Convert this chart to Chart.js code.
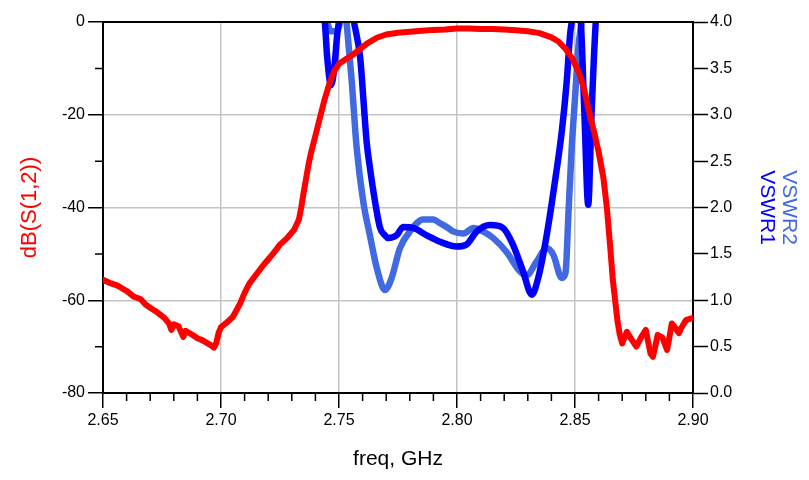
<!DOCTYPE html>
<html>
<head>
<meta charset="utf-8">
<script src="https://cdn.jsdelivr.net/npm/chart.js@4.4.1/dist/chart.umd.min.js"></script>
<style>
  html, body { margin: 0; padding: 0; background: #ffffff; }
  #wrap { width: 809px; height: 480px; }
</style>
</head>
<body>
<div id="wrap"><canvas id="c" width="809" height="480"></canvas></div>
<script>
// ---- data ----
const freqS12 = [2.650,2.653,2.656,2.660,2.663,2.666,2.668,2.670,2.673,2.676,2.678,2.679,2.680,2.682,2.684,2.685,2.688,2.690,2.692,2.694,2.696,2.697,2.698,2.699,2.700,2.702,2.705,2.708,2.710,2.712,2.715,2.718,2.720,2.722,2.725,2.728,2.731,2.733,2.734,2.735,2.737,2.738,2.740,2.742,2.744,2.746,2.748,2.750,2.753,2.756,2.759,2.762,2.766,2.770,2.775,2.780,2.785,2.790,2.795,2.800,2.805,2.810,2.815,2.820,2.825,2.830,2.835,2.840,2.843,2.846,2.849,2.852,2.854,2.856,2.858,2.860,2.862,2.8635,2.865,2.866,2.867,2.868,2.869,2.870,2.871,2.872,2.874,2.876,2.878,2.880,2.881,2.882,2.883,2.884,2.885,2.887,2.889,2.890,2.891,2.892,2.894,2.895,2.897,2.900];
const s12dB   = [-55.6,-56.3,-56.8,-58.0,-59.2,-59.8,-60.9,-61.6,-62.6,-63.8,-65.0,-66.4,-65.2,-65.6,-67.9,-66.6,-67.5,-68.2,-68.6,-69.2,-69.8,-70.2,-69.2,-67.0,-65.8,-65.0,-63.6,-60.8,-58.4,-56.4,-54.4,-52.4,-51.2,-50.0,-48.0,-46.6,-44.8,-42.6,-40.0,-36.8,-31.0,-28.5,-24.5,-20.5,-16.5,-13.2,-10.6,-9.0,-8.0,-7.0,-5.8,-4.6,-3.4,-2.7,-2.3,-2.1,-1.9,-1.7,-1.6,-1.4,-1.4,-1.5,-1.5,-1.6,-1.8,-2.0,-2.4,-3.3,-4.2,-5.8,-8.0,-11.4,-14.8,-19.5,-23.5,-28.0,-33.5,-40.0,-49.0,-55.5,-60.0,-64.5,-67.5,-69.3,-68.0,-66.8,-68.5,-70.0,-68.0,-66.4,-69.0,-71.5,-72.2,-70.0,-67.5,-68.0,-70.7,-68.0,-65.0,-65.6,-67.1,-66.0,-64.3,-63.8];

const freqV1 = [2.7420,2.7440,2.7450,2.7466,2.7480,2.7492,2.7505,2.7530,2.7560,2.7590,2.7603,2.7617,2.7631,2.7653,2.7674,2.7695,2.7708,2.7744,2.7772,2.7814,2.7872,2.7928,2.7999,2.8040,2.8083,2.8140,2.8195,2.8237,2.8280,2.8317,2.8344,2.8380,2.8415,2.8444,2.8465,2.8479,2.8486,2.8505,2.8525,2.8540,2.8556,2.8570,2.8588,2.8610];
const vswr1  = [4.40,4.00,3.62,3.32,3.50,3.85,4.10,4.60,4.05,3.61,3.18,2.71,2.43,2.06,1.78,1.70,1.67,1.70,1.79,1.78,1.70,1.63,1.58,1.60,1.74,1.81,1.78,1.60,1.31,1.06,1.24,1.70,2.28,2.82,3.36,3.86,4.00,4.50,4.00,3.00,2.03,3.00,4.00,4.50];

const freqV2 = [2.7420,2.7450,2.7465,2.7490,2.7505,2.7520,2.7533,2.7554,2.7575,2.7603,2.7631,2.7660,2.7695,2.7723,2.7758,2.7800,2.7857,2.7900,2.7928,2.7956,2.7985,2.8027,2.8069,2.8112,2.8154,2.8210,2.8267,2.8295,2.8338,2.8380,2.8408,2.8444,2.8460,2.8472,2.8486,2.8500,2.8514,2.8528,2.8550];
const vswr2  = [4.30,4.00,3.90,3.90,4.00,4.30,3.97,3.36,2.64,2.06,1.70,1.35,1.11,1.24,1.56,1.74,1.87,1.87,1.83,1.79,1.74,1.72,1.78,1.74,1.67,1.52,1.31,1.27,1.42,1.56,1.49,1.24,1.30,1.92,2.64,3.18,3.72,4.00,4.50];

const xTickLabels = ['2.65','2.70','2.75','2.80','2.85','2.90'];
const xMinorTicks = [2.66,2.67,2.68,2.69,2.71,2.72,2.73,2.74,2.76,2.77,2.78,2.79,2.81,2.82,2.83,2.84,2.86,2.87,2.88,2.89];
const yMinorTicks = [-10,-30,-50,-70];

const FONT = "'Liberation Sans', Arial, Helvetica, sans-serif";
const pts = (xs, ys) => xs.map((x, i) => ({x: x, y: ys[i]}));

const framePlugin = {
  id: 'frame',
  afterDraw(chart) {
    const ctx = chart.ctx;
    const a = chart.chartArea;
    const xs = chart.scales.x, ys = chart.scales.y;
    ctx.save();
    // top border
    ctx.strokeStyle = '#000';
    ctx.lineWidth = 2;
    ctx.beginPath();
    ctx.moveTo(a.left - 1, a.top);
    ctx.lineTo(a.right + 1, a.top);
    ctx.stroke();
    // minor ticks
    ctx.lineWidth = 1.5;
    ctx.beginPath();
    xMinorTicks.forEach(v => {
      const px = xs.getPixelForValue(v);
      ctx.moveTo(px, a.bottom);
      ctx.lineTo(px, a.bottom + 8);
    });
    yMinorTicks.forEach(v => {
      const py = ys.getPixelForValue(v);
      ctx.moveTo(a.left - 8, py);
      ctx.lineTo(a.left, py);
    });
    ctx.stroke();
    // right axis titles
    ctx.font = '21px ' + FONT;
    ctx.textAlign = 'center';
    ctx.textBaseline = 'middle';
    const cy = (a.top + a.bottom) / 2;
    [['VSWR1', '#0000ff', 767], ['VSWR2', '#4169e1', 789]].forEach(t => {
      ctx.save();
      ctx.translate(t[2], cy);
      ctx.rotate(Math.PI / 2);
      ctx.fillStyle = t[1];
      ctx.fillText(t[0], 0, 0);
      ctx.restore();
    });
    ctx.restore();
  }
};

new Chart(document.getElementById('c'), {
  type: 'line',
  data: {
    datasets: [
      { label: 'dB(S(1,2))', data: pts(freqS12, s12dB), yAxisID: 'y', borderColor: '#ff0000', borderWidth: 6, pointRadius: 0, tension: 0, borderJoinStyle: 'round', borderCapStyle: 'round' },
      { label: 'VSWR1', data: pts(freqV1, vswr1), yAxisID: 'y1', borderColor: '#0000ff', borderWidth: 6.5, pointRadius: 0, cubicInterpolationMode: 'monotone', borderJoinStyle: 'round', borderCapStyle: 'round', clip: 0 },
      { label: 'VSWR2', data: pts(freqV2, vswr2), yAxisID: 'y1', borderColor: '#4169e1', borderWidth: 6.5, pointRadius: 0, cubicInterpolationMode: 'monotone', borderJoinStyle: 'round', borderCapStyle: 'round', clip: 0 }
    ]
  },
  options: {
    responsive: false,
    animation: false,
    events: [],
    layout: { padding: { top: 22, left: 0, right: 0, bottom: 0 } },
    plugins: { legend: { display: false }, tooltip: { enabled: false } },
    scales: {
      x: {
        type: 'linear', position: 'bottom', min: 2.65, max: 2.90,
        afterBuildTicks: s => { s.ticks = xTickLabels.map(t => ({ value: parseFloat(t) })); },
        afterFit: s => { s.height = 87; },
        ticks: { callback: v => v.toFixed(2), font: { family: FONT, size: 16 }, color: '#000', padding: 3, maxRotation: 0, autoSkip: false },
        grid: { color: '#c4c4c4', lineWidth: 1.5, tickLength: 15, tickColor: '#000', tickWidth: 1.5 },
        border: { color: '#000', width: 2 },
        title: { display: true, text: 'freq, GHz', color: '#000', font: { family: FONT, size: 21 }, padding: { top: 0, bottom: 8 } }
      },
      y: {
        type: 'linear', position: 'left', min: -80, max: 0,
        ticks: { stepSize: 20, font: { family: FONT, size: 16 }, color: '#000', padding: 3 },
        afterFit: s => { s.width = 103; },
        grid: { color: '#c4c4c4', lineWidth: 1.5, tickLength: 15, tickColor: '#000', tickWidth: 1.5 },
        border: { color: '#000', width: 2 },
        title: { display: true, text: 'dB(S(1,2))', color: '#ff0000', font: { family: FONT, size: 22 }, padding: { top: 17, bottom: 0 } }
      },
      y1: {
        type: 'linear', position: 'right', min: 0, max: 4,
        ticks: { stepSize: 0.5, callback: v => v.toFixed(1), font: { family: FONT, size: 16 }, color: '#000', padding: 2 },
        afterFit: s => { s.width = 116; },
        grid: { drawOnChartArea: false, tickLength: 15, tickColor: '#000', tickWidth: 1.5 },
        border: { color: '#000', width: 2 }
      }
    }
  },
  plugins: [framePlugin]
});
</script>
</body>
</html>
